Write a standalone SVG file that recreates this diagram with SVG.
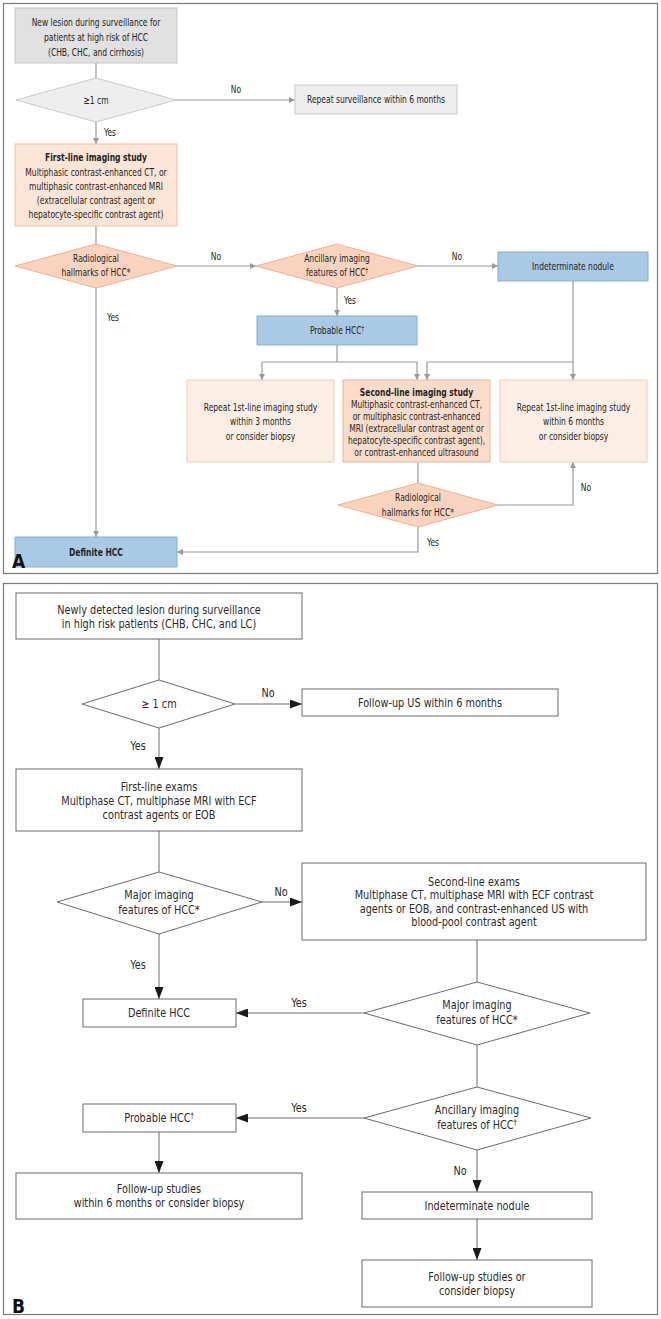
<svg xmlns="http://www.w3.org/2000/svg" width="661" height="1319" viewBox="0 0 661 1319">
<style>
.ta{font-family:"DejaVu Sans Condensed","Liberation Sans",sans-serif;font-size:11px;fill:#231f20;text-anchor:middle}
.tb{font-family:"DejaVu Sans Condensed","Liberation Sans",sans-serif;font-size:12px;fill:#2b2b2b;text-anchor:middle}
.bold{font-weight:bold}
.frame{fill:none;stroke:#7a7a7a;stroke-width:1.2}
.gray{fill:#e1e1e1;stroke:#c6c6c6}
.lgray{fill:#eeeeee;stroke:#c9c9c9}
.peach{fill:#fce4d6;stroke:#f2bfa4}
.peachl{fill:#fdeee5;stroke:#f3cbb6}
.peachd{fill:#fbdccb;stroke:#efb596}
.dia{fill:#f9d3be;stroke:#eeb193}
.blue{fill:#a9c9e5;stroke:#86aed4}
.wb{fill:#ffffff;stroke:#6b6b6b;stroke-width:1}
.ca{fill:none;stroke:#9a9a9a;stroke-width:1.2}
.cb{fill:none;stroke:#6b6b6b;stroke-width:1}
.lbl{font-family:"DejaVu Sans Condensed","Liberation Sans",sans-serif;font-weight:bold;fill:#111;font-size:19px}
</style>
<defs>
<marker id="ah" viewBox="0 0 6 6" refX="6" refY="3" markerWidth="6" markerHeight="6" markerUnits="userSpaceOnUse" orient="auto"><path d="M0,0 L6,3 L0,6 z" fill="#9a9a9a"/></marker>
<marker id="bh" viewBox="0 0 12 9" refX="12" refY="4.5" markerWidth="12" markerHeight="9" markerUnits="userSpaceOnUse" orient="auto"><path d="M0,0 L12,4.5 L0,9 z" fill="#1a1a1a"/></marker>
</defs>

<!-- Panel A -->
<rect class="frame" x="3.5" y="3.5" width="654" height="570"/>
<g id="connectorsA">
<line class="ca" x1="96" y1="63" x2="96" y2="78"/>
<line class="ca" x1="176" y1="100" x2="295" y2="100" marker-end="url(#ah)"/>
<line class="ca" x1="96" y1="122" x2="96" y2="144" marker-end="url(#ah)"/>
<line class="ca" x1="96" y1="226" x2="96" y2="244"/>
<line class="ca" x1="177" y1="266" x2="256" y2="266" marker-end="url(#ah)"/>
<line class="ca" x1="418" y1="266" x2="498" y2="266" marker-end="url(#ah)"/>
<line class="ca" x1="337" y1="288" x2="337" y2="316" marker-end="url(#ah)"/>
<line class="ca" x1="96" y1="288" x2="96" y2="537" marker-end="url(#ah)"/>
<polyline class="ca" points="337,345 337,362"/>
<polyline class="ca" points="262,362 417,362 417,380" marker-end="url(#ah)"/>
<line class="ca" x1="262" y1="362" x2="262" y2="380" marker-end="url(#ah)"/>
<line class="ca" x1="573" y1="281" x2="573" y2="380" marker-end="url(#ah)"/>
<polyline class="ca" points="573,362 427,362 427,380" marker-end="url(#ah)"/>
<line class="ca" x1="418" y1="462" x2="418" y2="483"/>
<polyline class="ca" points="498,505 573,505 573,462" marker-end="url(#ah)"/>
<polyline class="ca" points="418,527 418,552 177,552" marker-end="url(#ah)"/>
<g transform="scale(0.765,1)">
<text class="ta" x="308.5" y="93.5">No</text>
<text class="ta" x="143.79" y="136.5">Yes</text>
<text class="ta" x="282.35" y="260.5">No</text>
<text class="ta" x="597.39" y="260.5">No</text>
<text class="ta" x="457.52" y="304.5">Yes</text>
<text class="ta" x="147.71" y="321.5">Yes</text>
<text class="ta" x="766.01" y="491.5">No</text>
<text class="ta" x="566.01" y="546.5">Yes</text>
</g>
</g>

<g id="a_start">
<rect class="gray" x="15" y="8" width="162" height="55"/>
<g transform="scale(0.765,1)">
<text class="ta" x="125.49" y="26.5">New lesion during surveillance for</text>
<text class="ta" x="125.49" y="41">patients at high risk of HCC</text>
<text class="ta" x="125.49" y="56.5">(CHB, CHC, and cirrhosis)</text>
</g>
</g>
<g id="a_size">
<polygon class="lgray" points="96,78 176,100 96,122 16,100"/>
<text class="ta" x="125.49" y="104" transform="scale(0.765,1)">≥1 cm</text>
</g>
<g id="a_repeat_surv">
<rect class="lgray" x="295" y="85" width="162" height="29"/>
<text class="ta" x="491.5" y="103.5" transform="scale(0.765,1)">Repeat surveillance within 6 months</text>
</g>
<g id="a_first">
<rect class="peach" x="15" y="144" width="162" height="82"/>
<g transform="scale(0.765,1)">
<text class="ta bold" x="125.49" y="161.5">First-line imaging study</text>
<text class="ta" x="125.49" y="176">Multiphasic contrast-enhanced CT, or</text>
<text class="ta" x="125.49" y="190.5">multiphasic contrast-enhanced MRI</text>
<text class="ta" x="125.49" y="204.5">(extracellular contrast agent or</text>
<text class="ta" x="125.49" y="218.5">hepatocyte-specific contrast agent)</text>
</g>
</g>
<g id="a_rad1">
<polygon class="dia" points="96,244 177,266 96,288 15,266"/>
<g transform="scale(0.765,1)">
<text class="ta" x="125.49" y="262">Radiological</text>
<text class="ta" x="125.49" y="276.5">hallmarks of HCC*</text>
</g>
</g>
<g id="a_anc">
<polygon class="dia" points="337,244 418,266 337,288 256,266"/>
<g transform="scale(0.765,1)">
<text class="ta" x="440.52" y="262">Ancillary imaging</text>
<text class="ta" x="440.52" y="276.5">features of HCC<tspan font-size="7.5" dy="-3">†</tspan></text>
</g>
</g>
<g id="a_indet">
<rect class="blue" x="498" y="252" width="150" height="29"/>
<text class="ta" x="749.02" y="270.5" transform="scale(0.765,1)">Indeterminate nodule</text>
</g>
<g id="a_prob">
<rect class="blue" x="257" y="316" width="160" height="29"/>
<text class="ta" x="440.52" y="334.5" transform="scale(0.765,1)">Probable HCC<tspan font-size="7.5" dy="-3">†</tspan></text>
</g>
<g id="a_rep3">
<rect class="peachl" x="187" y="380" width="147" height="82"/>
<g transform="scale(0.765,1)">
<text class="ta" x="340.52" y="411.5">Repeat 1st-line imaging study</text>
<text class="ta" x="340.52" y="425.5">within 3 months</text>
<text class="ta" x="340.52" y="440">or consider biopsy</text>
</g>
</g>
<g id="a_second">
<rect class="peachd" x="343" y="380" width="147" height="82"/>
<g transform="scale(0.765,1)">
<text class="ta bold" x="544.44" y="396.5">Second-line imaging study</text>
<text class="ta" x="544.44" y="408.5">Multiphasic contrast-enhanced CT,</text>
<text class="ta" x="544.44" y="420.5">or multiphasic contrast-enhanced</text>
<text class="ta" x="544.44" y="432.5">MRI (extracellular contrast agent or</text>
<text class="ta" x="544.44" y="444.5">hepatocyte-specific contrast agent),</text>
<text class="ta" x="544.44" y="456.5">or contrast-enhanced ultrasound</text>
</g>
</g>
<g id="a_rep6">
<rect class="peachl" x="500" y="380" width="147" height="82"/>
<g transform="scale(0.765,1)">
<text class="ta" x="749.67" y="411.5">Repeat 1st-line imaging study</text>
<text class="ta" x="749.67" y="425.5">within 6 months</text>
<text class="ta" x="749.67" y="440">or consider biopsy</text>
</g>
</g>
<g id="a_rad2">
<polygon class="dia" points="418,483 498,505 418,527 338,505"/>
<g transform="scale(0.765,1)">
<text class="ta" x="546.41" y="501.5">Radiological</text>
<text class="ta" x="546.41" y="516.5">hallmarks for HCC*</text>
</g>
</g>
<g id="a_def">
<rect class="blue" x="15" y="537" width="162" height="30"/>
<text class="ta bold" x="125.49" y="556" transform="scale(0.765,1)">Definite HCC</text>
</g>
<text class="lbl" x="12" y="568">A</text>

<!-- Panel B -->
<rect class="frame" x="3.5" y="583.5" width="654" height="731"/>
<g id="connectorsB">
<line class="cb" x1="159" y1="639" x2="159" y2="680"/>
<line class="cb" x1="235" y1="704" x2="302" y2="704" marker-end="url(#bh)"/>
<line class="cb" x1="159" y1="728" x2="159" y2="769" marker-end="url(#bh)"/>
<line class="cb" x1="159" y1="831" x2="159" y2="872"/>
<line class="cb" x1="262" y1="902" x2="302" y2="902" marker-end="url(#bh)"/>
<line class="cb" x1="159" y1="934" x2="159" y2="999" marker-end="url(#bh)"/>
<line class="cb" x1="477" y1="940" x2="477" y2="982"/>
<line class="cb" x1="364" y1="1013" x2="236" y2="1013" marker-end="url(#bh)"/>
<line class="cb" x1="477" y1="1045" x2="477" y2="1087"/>
<line class="cb" x1="364" y1="1118" x2="236" y2="1118" marker-end="url(#bh)"/>
<line class="cb" x1="159" y1="1132" x2="159" y2="1173" marker-end="url(#bh)"/>
<line class="cb" x1="477" y1="1150" x2="477" y2="1192" marker-end="url(#bh)"/>
<line class="cb" x1="477" y1="1219" x2="477" y2="1260" marker-end="url(#bh)"/>
<g transform="scale(0.9,1)">
<text class="tb" x="297.778" y="697">No</text>
<text class="tb" x="153.333" y="750">Yes</text>
<text class="tb" x="312.222" y="896">No</text>
<text class="tb" x="153.333" y="969">Yes</text>
<text class="tb" x="332.222" y="1007">Yes</text>
<text class="tb" x="332.222" y="1112">Yes</text>
<text class="tb" x="511.111" y="1175">No</text>
</g>
</g>
<g id="b_start">
<rect class="wb" x="16" y="593" width="286" height="46"/>
<g transform="scale(0.9,1)">
<text class="tb" x="176.667" y="614">Newly detected lesion during surveillance</text>
<text class="tb" x="176.667" y="628">in high risk patients (CHB, CHC, and LC)</text>
</g>
</g>
<g id="b_size">
<polygon class="wb" points="159,680 235,704 159,728 82,704"/>
<text class="tb" x="176.667" y="708" transform="scale(0.9,1)">≥ 1 cm</text>
</g>
<g id="b_fu_us">
<rect class="wb" x="302" y="689" width="256" height="27"/>
<text class="tb" x="477.778" y="707" transform="scale(0.9,1)">Follow-up US within 6 months</text>
</g>
<g id="b_first">
<rect class="wb" x="16" y="769" width="286" height="62"/>
<g transform="scale(0.9,1)">
<text class="tb" x="176.667" y="791">First-line exams</text>
<text class="tb" x="176.667" y="805">Multiphase CT, multiphase MRI with ECF</text>
<text class="tb" x="176.667" y="819">contrast agents or EOB</text>
</g>
</g>
<g id="b_major1">
<polygon class="wb" points="159,872 262,902 159,934 57,902"/>
<g transform="scale(0.9,1)">
<text class="tb" x="176.667" y="899">Major imaging</text>
<text class="tb" x="176.667" y="914">features of HCC*</text>
</g>
</g>
<g id="b_second">
<rect class="wb" x="302" y="863" width="344" height="77"/>
<g transform="scale(0.9,1)">
<text class="tb" x="526.667" y="886">Second-line exams</text>
<text class="tb" x="526.667" y="899.5">Multiphase CT, multiphase MRI with ECF contrast</text>
<text class="tb" x="526.667" y="913">agents or EOB, and contrast-enhanced US with</text>
<text class="tb" x="526.667" y="926.5">blood-pool contrast agent</text>
</g>
</g>
<g id="b_major2">
<polygon class="wb" points="477,982 590,1013 477,1045 364,1013"/>
<g transform="scale(0.9,1)">
<text class="tb" x="530" y="1009">Major imaging</text>
<text class="tb" x="530" y="1024">features of HCC*</text>
</g>
</g>
<g id="b_def">
<rect class="wb" x="83" y="999" width="153" height="28"/>
<text class="tb" x="176.667" y="1017" transform="scale(0.9,1)">Definite HCC</text>
</g>
<g id="b_anc">
<polygon class="wb" points="477,1087 591,1118 477,1150 364,1118"/>
<g transform="scale(0.9,1)">
<text class="tb" x="530" y="1114">Ancillary imaging</text>
<text class="tb" x="530" y="1129">features of HCC<tspan font-size="8" dy="-4">†</tspan></text>
</g>
</g>
<g id="b_prob">
<rect class="wb" x="83" y="1104" width="153" height="28"/>
<text class="tb" x="176.667" y="1122" transform="scale(0.9,1)">Probable HCC<tspan font-size="8" dy="-4">†</tspan></text>
</g>
<g id="b_fu_studies">
<rect class="wb" x="16" y="1173" width="286" height="46"/>
<g transform="scale(0.9,1)">
<text class="tb" x="176.667" y="1193">Follow-up studies</text>
<text class="tb" x="176.667" y="1207">within 6 months or consider biopsy</text>
</g>
</g>
<g id="b_indet">
<rect class="wb" x="362" y="1192" width="230" height="27"/>
<text class="tb" x="530" y="1210" transform="scale(0.9,1)">Indeterminate nodule</text>
</g>
<g id="b_final">
<rect class="wb" x="362" y="1260" width="230" height="47"/>
<g transform="scale(0.9,1)">
<text class="tb" x="530" y="1281">Follow-up studies or</text>
<text class="tb" x="530" y="1295">consider biopsy</text>
</g>
</g>
<text class="lbl" x="12" y="1313">B</text>
</svg>
